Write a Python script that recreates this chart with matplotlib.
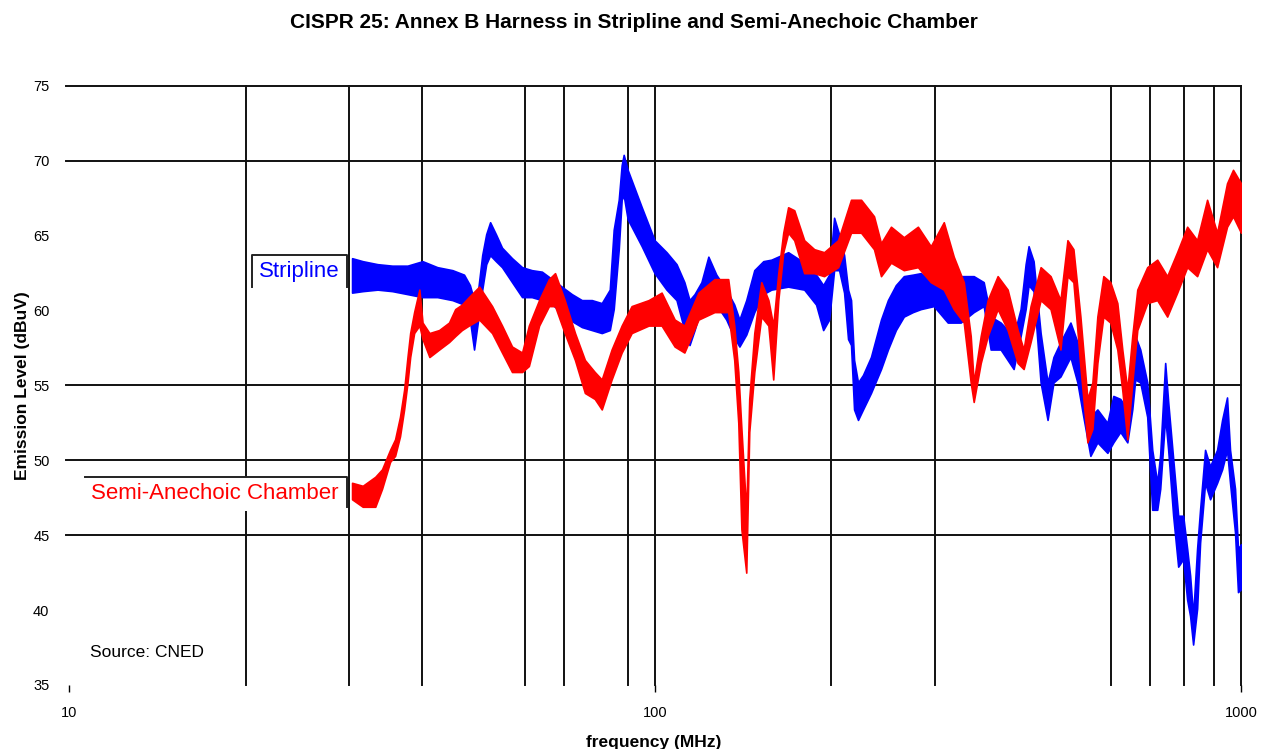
import matplotlib.pyplot as plt
from matplotlib.patches import Rectangle
from matplotlib.ticker import NullLocator

plt.rcParams['font.family'] = ['Liberation Sans', 'DejaVu Sans']

strip_freq = [30.4, 31.7, 33.6, 35.6, 37.8, 40.1, 42.5, 45.1, 47.2, 48.3, 49.1, 49.9,
              50.7, 51.5, 52.3, 53.5, 54.8, 57.0, 59.3, 61.6, 64.1, 66.7, 69.3, 72.1,
              75.0, 78.0, 81.1, 83.7, 85.0, 86.7, 87.7, 88.4, 89.8, 91.2, 94.9, 99.8,
              104.6, 108.8, 112.2, 114.5, 116.8, 120.0, 123.3, 127.2, 132.3, 136.5, 139.3, 143.1,
              147.7, 153.0, 157.9, 168.7, 179.7, 188.3, 193.6, 198.2, 202.1, 206.1, 210.2, 213.5,
              216.0, 218.6, 222.0, 226.4, 233.6, 243.0, 249.7, 257.6, 265.8, 275.4, 284.1, 299.0,
              315.9, 332.4, 349.8, 363.8, 373.9, 388.9, 409.2, 420.6, 429.0, 434.0, 442.6, 455.0,
              467.6, 478.6, 491.9, 511.6, 525.8, 538.3, 553.3, 568.7, 591.5, 605.5, 622.3, 639.7,
              652.3, 660.0, 673.1, 691.8, 705.5, 719.5, 728.0, 742.4, 751.2, 766.1, 781.3, 796.7,
              809.3, 818.8, 828.5, 841.6, 851.5, 868.4, 885.6, 910.3, 928.5, 946.6, 957.8, 976.8,
              988.3, 1000]
strip_hi = [63.5, 63.3, 63.1, 63.0, 63.0, 63.3, 62.9, 62.7, 62.4, 61.7, 60.7, 61.4,
            63.7, 65.1, 65.9, 65.1, 64.2, 63.5, 62.9, 62.7, 62.6, 62.1, 61.6, 61.1,
            60.7, 60.7, 60.5, 61.4, 65.4, 67.4, 69.7, 70.4, 69.4, 68.7, 66.9, 64.7,
            63.9, 63.1, 61.9, 60.7, 61.1, 61.9, 63.6, 62.4, 61.4, 60.4, 59.4, 60.7,
            62.7, 63.3, 63.4, 63.9, 63.2, 62.4, 61.7, 62.4, 66.2, 65.1, 63.7, 61.4,
            60.7, 56.7, 55.2, 55.7, 56.9, 59.4, 60.7, 61.7, 62.3, 62.4, 62.5, 61.9,
            62.3, 62.3, 62.3, 61.9, 59.6, 59.2, 58.3, 60.1, 63.1, 64.3, 63.3, 58.5,
            55.2, 56.9, 57.9, 59.2, 57.9, 55.2, 52.9, 53.4, 52.5, 54.3, 54.1, 53.4,
            57.4, 58.3, 57.4, 55.2, 50.7, 48.5, 50.4, 56.5, 53.9, 50.1, 46.3, 46.3,
            44.1, 42.3, 39.6, 44.1, 46.7, 50.7, 49.6, 50.7, 52.7, 54.2, 50.7, 48.1,
            44.1, 44.4]
strip_lo = [61.2, 61.3, 61.4, 61.3, 61.1, 60.9, 60.9, 60.7, 60.4, 59.4, 57.4, 59.4,
            61.4, 63.1, 63.7, 63.3, 62.9, 61.9, 60.9, 60.9, 60.7, 60.4, 59.9, 59.3,
            58.9, 58.7, 58.5, 58.7, 60.1, 64.1, 67.4, 67.7, 66.1, 65.6, 64.3, 62.5,
            61.4, 60.7, 58.7, 57.7, 58.7, 60.3, 61.1, 60.4, 59.4, 58.2, 57.6, 58.4,
            59.9, 61.1, 61.4, 61.6, 61.4, 60.4, 58.7, 59.4, 62.7, 62.7, 61.2, 58.1,
            57.7, 53.4, 52.7, 53.4, 54.5, 56.1, 57.4, 58.7, 59.6, 59.9, 60.1, 60.3,
            59.2, 59.2, 59.9, 60.3, 57.4, 57.4, 56.1, 58.3, 60.1, 61.7, 61.3, 55.2,
            52.7, 55.2, 55.6, 56.9, 55.2, 52.9, 50.3, 51.2, 50.5, 51.2, 51.9, 51.2,
            53.4, 55.4, 55.2, 52.9, 46.7, 46.7, 48.1, 52.9, 50.7, 46.3, 42.9, 43.4,
            40.7, 39.6, 37.7, 40.1, 44.5, 48.5, 47.4, 48.5, 49.4, 50.7, 48.5, 45.2,
            41.2, 41.4]

# Semi-anechoic chamber trace, same reading method
sac_freq = [30.4, 31.7, 33.3, 34.2, 35.3, 36.0, 36.7, 37.3, 37.8, 38.2, 38.8, 39.6,
            40.1, 41.2, 42.8, 44.5, 45.6, 46.8, 48.1, 50.1, 52.7, 54.8, 57.0, 59.3,
            60.9, 63.4, 65.9, 67.5, 70.1, 73.0, 75.9, 78.9, 81.1, 84.3, 87.7, 91.2,
            97.5, 102.6, 108.0, 112.2, 118.6, 126.3, 133.3, 136.5, 138.7, 140.4, 143.1, 144.8,
            147.7, 151.8, 156.1, 159.1, 162.3, 165.5, 168.7, 172.8, 179.7, 186.9, 194.3, 205.3,
            216.0, 224.7, 236.4, 243.0, 252.7, 265.8, 280.9, 295.5, 311.0, 323.4, 336.4, 345.7,
            349.8, 359.6, 369.6, 384.3, 399.7, 415.7, 425.6, 437.4, 455.0, 473.1, 491.9, 505.6,
            517.6, 532.0, 546.9, 557.7, 568.7, 582.2, 598.4, 615.1, 627.2, 639.7, 652.3, 665.3,
            691.8, 719.5, 748.2, 778.2, 809.3, 841.6, 875.3, 910.3, 946.6, 969.2, 1000]
sac_hi = [48.5, 48.3, 48.9, 49.4, 50.7, 51.4, 52.9, 54.7, 56.9, 58.5, 59.9, 61.4,
          59.2, 58.5, 58.7, 59.2, 60.1, 60.4, 60.9, 61.6, 60.3, 59.0, 57.6, 57.2,
          59.0, 60.7, 62.1, 62.5, 60.7, 58.5, 56.7, 55.9, 55.4, 57.4, 59.0, 60.3,
          60.7, 61.2, 59.4, 59.0, 61.2, 62.1, 62.1, 59.0, 55.9, 52.1, 46.5, 54.1,
          58.5, 61.9, 60.7, 59.0, 62.5, 65.2, 66.9, 66.7, 64.7, 64.1, 63.9, 64.7,
          67.4, 67.4, 66.3, 64.5, 65.6, 64.9, 65.6, 64.3, 65.9, 63.6, 61.9, 58.3,
          55.2, 58.3, 60.7, 62.3, 61.4, 58.7, 57.4, 60.3, 62.9, 62.3, 60.7, 64.7,
          64.1, 59.6, 54.1, 55.2, 59.6, 62.3, 61.9, 60.5, 57.4, 54.7, 58.3, 61.4,
          62.9, 63.4, 62.3, 63.9, 65.6, 64.7, 67.4, 65.2, 68.5, 69.4, 68.5]
sac_lo = [47.4, 46.9, 46.9, 48.1, 49.9, 50.3, 51.6, 53.4, 55.2, 56.9, 58.5, 59.0,
          58.1, 56.9, 57.4, 57.9, 58.3, 58.7, 59.0, 59.4, 58.5, 57.2, 55.9, 55.9,
          56.3, 59.0, 60.3, 60.3, 58.5, 56.7, 54.5, 54.1, 53.4, 55.4, 57.2, 58.5,
          59.0, 59.0, 57.6, 57.2, 59.4, 59.9, 59.9, 56.7, 52.5, 45.4, 42.5, 51.9,
          55.9, 59.6, 59.0, 55.4, 60.7, 63.9, 65.2, 64.7, 62.5, 62.5, 62.3, 62.9,
          65.2, 65.2, 64.1, 62.3, 63.2, 62.7, 62.9, 61.9, 61.4, 60.1, 59.2, 55.2,
          53.9, 56.5, 58.3, 60.1, 58.7, 56.5, 56.1, 57.9, 60.7, 60.1, 57.4, 62.3,
          61.9, 56.3, 51.2, 52.1, 56.5, 59.6, 59.2, 57.4, 54.7, 51.4, 55.2, 58.7,
          60.5, 60.7, 59.6, 61.2, 62.9, 62.3, 64.1, 62.9, 65.6, 66.3, 65.2]

y_ticks = [35, 40, 45, 50, 55, 60, 65, 70, 75]
x_ticks = [10, 100, 1000]
x_tick_labels = ['10', '100', '1000']
x_grid = [20, 30, 40, 60, 70, 90, 100, 200, 300, 600, 700, 800, 900, 1000]
y_grid = [45, 50, 55, 70, 75]

fig = plt.figure(figsize=(12.68, 7.49), dpi=100)
ax = fig.add_axes([0.0521, 0.0855, 0.9266, 0.7997])
ax.set_xscale('log')
ax.set_xlim(9.88, 1000)
ax.set_ylim(35, 75)
for s in ax.spines.values():
    s.set_visible(False)

for x in x_grid:
    ax.axvline(x, color='#111111', lw=1.4, zorder=1, clip_on=False)
for y in y_grid:
    ax.axhline(y, color='#111111', lw=1.4, zorder=1, clip_on=False)

ax.fill_between(strip_freq, strip_lo, strip_hi, color='#0000ff', lw=1.2, zorder=3)
ax.fill_between(sac_freq, sac_lo, sac_hi, color='#ff0000', lw=1.2, zorder=3)

# label boxes (open at the bottom, white behind the text)
ax.add_patch(Rectangle((20.53, 61.4), 29.82 - 20.53, 63.7 - 61.4, facecolor='white',
                       edgecolor='none', zorder=4))
ax.plot([20.53, 20.53, 29.82, 29.82], [61.6, 63.7, 63.7, 61.6], color='#222222', lw=1.4,
        zorder=5)
ax.text(24.74, 62.6, 'Stripline', color='#0000ff', fontsize=16, ha='center', va='center',
        zorder=6)

ax.add_patch(Rectangle((10.65, 46.6), 29.82 - 10.65, 48.87 - 46.6, facecolor='white',
                       edgecolor='none', zorder=4))
ax.plot([10.65, 29.82, 29.82], [48.87, 48.87, 46.87], color='#222222', lw=1.4, zorder=5)
ax.text(17.75, 47.8, 'Semi-Anechoic Chamber', color='#ff0000', fontsize=16,
        ha='center', va='center', zorder=6)

ax.text(10.86, 37.2, 'Source: CNED', fontsize=12.5, ha='left', va='center', zorder=6)

ax.set_xticks(x_ticks, labels=x_tick_labels)
ax.xaxis.set_minor_locator(NullLocator())
ax.set_yticks(y_ticks)
ax.tick_params(axis='x', length=5, width=1, pad=10, labelsize=10.5)
ax.tick_params(axis='y', length=0, pad=12, labelsize=10.5)

ax.set_xlabel('frequency (MHz)', fontsize=12.5, fontweight='bold', labelpad=11)
ax.set_ylabel('Emission Level (dBuV)', fontsize=12.5, fontweight='bold', labelpad=2)
fig.suptitle('CISPR 25: Annex B Harness in Stripline and Semi-Anechoic Chamber',
             fontsize=15, fontweight='bold', y=0.983)

fig.savefig('out.png', dpi=100)
